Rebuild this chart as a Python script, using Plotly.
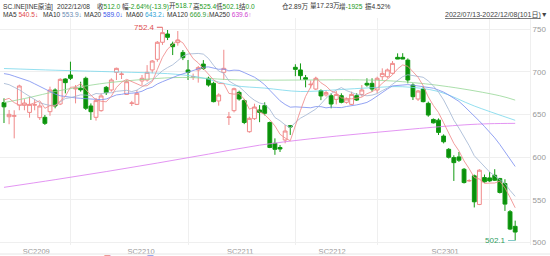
import plotly.graph_objects as go

# ---------------- data ----------------
idx = list(range(101))
opens = [664, 647.4, 648, 661, 661, 652.5, 661, 646.3, 646.7, 653.3,
         678.8, 662.3, 691.7, 696.4, 680, 680.9, 692.5, 660, 646.7, 654.5,
         681.9, 678.8, 699.5, 697, 673.6, 663, 661.9, 689.4, 690.5, 702.3,
         714.8, 734.8, 744.5, 732.8, 734.4, 722.9, 702.3, 694, 702.3, 709.2,
         692.5, 686.6, 665.9, 699.5, 646.5, 654.5, 676, 666.3, 629.8, 645.1,
         655.3, 660.4, 640.6, 616.2, 611.3, 620.1, 636.9, 705.4, 702.3, 693.2,
         685, 679.9, 678, 673, 672.1, 667.8, 672.1, 664.3, 661.9, 672.1,
         673.6, 686.6, 686.6, 678.8, 694.4, 694.4, 698.4, 717.1, 717.1, 713.9,
         684.6, 668.2, 679.9, 663.1, 644.2, 643.4, 624.7, 609.1, 599.4, 600.2,
         585.7, 572, 578, 544.4, 576, 575.6, 578.7, 574.9, 569, 535.9,
         518.7]
highs = [669, 655.3, 655, 685, 668, 671, 668, 664, 649.4, 682.7,
         680.7, 692.5, 692.5, 712, 684.6, 688.5, 694.4, 663, 669.4, 674.9,
         683.5, 692.5, 705, 700.3, 690.5, 666, 678.8, 696.4, 708, 714,
         736.3, 752.4, 749.2, 735.5, 748, 725.7, 714, 698, 707, 713.9,
         694.4, 688.5, 674.9, 726, 653, 681.5, 678, 668.2, 647.4, 662.7,
         661, 664.3, 641.7, 622, 614.2, 637.7, 637.7, 709, 710, 696.4,
         690, 694.4, 679.5, 678, 674.9, 677.6, 674.9, 670, 676.8, 674.9,
         684.6, 692.5, 692.5, 694.4, 704.2, 704, 712.8, 721.8, 722, 715.9,
         686.6, 678.8, 682.7, 665.1, 645.4, 645.4, 626.7, 610.6, 602.1, 606,
         587.2, 574, 579.5, 585.8, 579.5, 582.3, 585.8, 575.6, 574, 537.9,
         525.4]
lows = [640, 638.6, 622, 655, 655, 646.3, 655, 643.6, 637.7, 648.5,
        657.3, 661.1, 674.8, 690.5, 663.1, 676.8, 655.3, 643.6, 642.8, 653.3,
        672.9, 676.8, 690.5, 691.7, 672.9, 660, 661.1, 684.6, 688.6, 698.4,
        712, 731.7, 737.4, 719.8, 730.8, 713.9, 690.5, 690.5, 687.4, 702.3,
        682.7, 664.3, 660.4, 690.5, 637.7, 652.5, 666.3, 638.7, 628.6, 643.6,
        641, 649, 610.5, 602.7, 606, 616.2, 626, 695, 690.5, 681.9,
        680.7, 678.8, 666.9, 671, 657.3, 661.9, 663.1, 662.7, 661.1, 665.9,
        671, 682.7, 676.8, 674.9, 690.5, 692.5, 697.2, 715, 715, 686.6,
        667, 665.9, 664.3, 647.4, 639.5, 625.9, 616.1, 598.3, 572, 594.3,
        569, 571, 540.9, 543.6, 570.1, 570.9, 572, 557.3, 536.8, 514.3,
        502.1]
closes = [659, 650.2, 648.5, 683.5, 663.5, 661.9, 661.5, 660, 639.6, 678.8,
          660, 691.3, 687.4, 692.5, 681, 679, 657.3, 653.3, 666.3, 671.8,
          675.7, 690.5, 704.2, 697.5, 688.5, 663.5, 674.9, 692.5, 699.5, 712.8,
          734.8, 746.1, 740.6, 729.6, 737.5, 716.7, 699.5, 694.5, 705, 704.2,
          684.6, 665.1, 672.9, 704.2, 647, 680.3, 668.2, 640.6, 645.5, 658.8,
          652.5, 651.4, 611.3, 609.1, 609.5, 630.6, 635.3, 703, 695.6, 691.3,
          685.5, 692.5, 671.8, 675.7, 662.3, 673.6, 664.3, 668.2, 673.6, 667,
          678.8, 684.6, 679.9, 692.5, 698.3, 702.3, 710, 715.1, 715.1, 690.5,
          670.9, 677.6, 665.1, 649.4, 640.2, 629, 618, 599.8, 593.5, 596.3,
          570.1, 572.5, 547.5, 584.6, 571, 572, 572.8, 558.5, 544.8, 515.5,
          512.0]

ma5 = [667, 669, 664, 661, 660.9, 661.5, 663.8, 666.1, 657.3, 660.4,
       660.0, 665.9, 671.4, 682.0, 682.4, 686.2, 679.4, 672.6, 667.4, 665.5,
       664.9, 671.5, 681.7, 687.9, 691.3, 688.8, 685.7, 683.4, 683.8, 688.6,
       702.9, 717.1, 726.8, 732.8, 737.7, 734.1, 724.8, 715.6, 710.6, 704.0,
       697.6, 690.7, 686.4, 686.2, 674.8, 673.9, 674.5, 668.1, 656.3, 658.7,
       653.1, 649.8, 643.9, 636.6, 626.8, 622.4, 619.2, 637.5, 654.8, 671.2,
       682.1, 693.6, 687.3, 683.4, 677.6, 675.2, 669.5, 668.8, 668.4, 669.3,
       670.4, 674.4, 676.8, 680.6, 686.8, 691.5, 696.6, 703.6, 708.2, 706.6,
       700.3, 693.8, 683.8, 670.7, 660.6, 652.3, 640.3, 627.3, 616.1, 607.3,
       595.5, 586.4, 576.0, 574.2, 569.1, 569.5, 569.6, 571.8, 563.8, 552.7,
       540.5]
ma10 = [686.5, 685, 682, 679, 675, 671, 667, 664, 662, 660.7,
        660.8, 664.9, 668.8, 669.7, 671.4, 673.1, 672.7, 672.0, 674.7, 674.0,
        675.6, 675.5, 677.2, 677.7, 678.4, 676.9, 678.6, 682.5, 685.9, 690.0,
        695.9, 701.4, 705.1, 708.3, 713.2, 718.5, 721.0, 721.2, 721.7, 720.9,
        715.8, 707.7, 701.0, 698.4, 689.4, 685.7, 682.6, 677.2, 671.3, 666.7,
        663.5, 662.1, 656.0, 646.5, 642.7, 637.8, 634.5, 640.7, 645.7, 649.0,
        652.3, 656.4, 662.4, 669.1, 674.4, 678.7, 681.6, 678.1, 675.9, 673.5,
        672.8, 672.0, 672.8, 674.5, 678.1, 681.0, 685.5, 690.2, 694.4, 696.7,
        695.9, 695.2, 693.7, 689.4, 683.6, 676.3, 667.1, 655.6, 643.4, 634.0,
        623.9, 613.4, 601.6, 595.2, 588.2, 582.5, 578.0, 573.9, 569.0, 560.9,
        553.9]
ma20 = [698, 697, 695, 693, 691, 689, 686, 683, 680, 677,
        674, 672, 671, 670, 669.5, 669, 668.5, 668, 667.5, 667.4,
        668.2, 670.2, 673.0, 673.7, 674.9, 675.0, 675.7, 677.3, 680.3, 682.0,
        685.8, 688.5, 691.2, 693.0, 695.8, 697.7, 699.8, 701.9, 703.8, 705.5,
        705.9, 704.6, 703.1, 703.4, 701.3, 702.1, 701.8, 699.2, 696.5, 693.8,
        689.7, 684.9, 678.5, 672.5, 666.1, 661.8, 658.6, 659.0, 658.5, 657.9,
        657.9, 659.3, 659.2, 657.8, 658.6, 658.3, 658.1, 659.4, 660.8, 661.3,
        662.6, 664.2, 667.6, 671.8, 676.3, 679.9, 683.6, 684.2, 685.2, 685.1,
        684.4, 683.6, 683.3, 682.0, 680.9, 678.7, 676.3, 672.9, 668.9, 665.4,
        659.9, 654.3, 647.7, 642.3, 635.9, 629.4, 622.6, 614.8, 606.2, 597.5,
        589.0]
ma60_x = [0, 10, 19, 25, 32, 38, 45, 51, 58, 65, 72, 78, 85, 92, 100]
ma60_y = [704, 702, 700.5, 699.5, 698, 694, 684, 681, 677, 679, 681.5, 682.6, 677, 660, 643.2]
ma120_x = [0, 5, 10, 15, 20, 28, 35, 46, 58, 71, 78, 87, 97, 100]
ma120_y = [664, 670, 677, 682.5, 687, 691.5, 693.5, 690.5, 690.5, 690.5, 688.5, 682.6, 672, 666.9]
ma250_x = [0, 10, 20, 30, 40, 50, 60, 70, 80, 90, 95, 100]
ma250_y = [564.5, 573.5, 583, 593, 603.5, 614, 621.5, 627.5, 633, 637.8, 639.2, 639.6]

month_starts = [13, 36, 57, 73, 95]
xtick_pos = [6.3, 26.8, 46.2, 64.2, 86.3]
xtick_text = ["SC2209", "SC2210", "SC2211", "SC2212", "SC2301"]
ytick_vals = [500, 550, 600, 650, 700, 750]

assert all(len(a) == 101 for a in (opens, highs, lows, closes, ma5, ma10, ma20))

# ---------------- figure ----------------
W, H = 550, 256
L, R, T, B = 0, 20, 18, 11
PW, PH = W - L - R, H - T - B
FONT = "Liberation Sans, Noto Sans CJK SC, sans-serif"

fig = go.Figure()
fig.add_trace(go.Candlestick(
    x=idx, open=opens, high=highs, low=lows, close=closes,
    increasing=dict(line=dict(color="#f08a8a", width=1), fillcolor="#ffffff"),
    decreasing=dict(line=dict(color="#119a11", width=1), fillcolor="#0a8f0a"),
    whiskerwidth=0, showlegend=False, hoverinfo="skip"))

def add_line(xs, ys, color, spline=False):
    fig.add_trace(go.Scatter(
        x=xs, y=ys, mode="lines",
        line=dict(color=color, width=1, shape="spline" if spline else "linear",
                  smoothing=1.0),
        showlegend=False, hoverinfo="skip"))

add_line(ma250_x, ma250_y, "rgba(222,130,240,0.85)", True)
add_line(ma120_x, ma120_y, "rgba(150,215,150,0.8)", True)
add_line(ma60_x, ma60_y, "rgba(120,215,235,0.8)", True)
add_line(idx, ma20, "rgba(120,140,240,0.8)")
add_line(idx, ma10, "rgba(160,180,210,0.8)")
add_line(idx, ma5, "rgba(240,140,140,0.85)")

# high / low markers
fig.add_shape(type="line", x0=29.9, x1=31, y0=752.4, y1=752.4,
              line=dict(color="#e06060", width=1))
fig.add_annotation(x=29.9, y=752.4, text="752.4", showarrow=False, xanchor="right",
                   font=dict(family=FONT, size=8, color="#e05050"))
fig.add_shape(type="line", x0=98.6, x1=100, y0=502.1, y1=502.1,
              line=dict(color="#80c8c8", width=1))
fig.add_annotation(x=98.6, y=502.1, text="502.1", showarrow=False, xanchor="right",
                   font=dict(family=FONT, size=8, color="#2e9e5e"))

# header
def px2paper(px, py):
    return (px - L) / PW, (H - B - py) / PH

G = "#1a9a1a"
HS = 6.6
line1 = [
    (2, "SC.INE[INE原油]"),
    (56, "2022/12/08"),
    (96, f"收<span style='color:{G}'>512.0</span>"),
    (121, f"幅<span style='color:{G}'>-2.64%(-13.9)</span>"),
    (168, f"开<span style='color:{G}'>518.7</span>"),
    (192, f"高<span style='color:{G}'>525.4</span>"),
    (215, f"低<span style='color:{G}'>502.1</span>"),
    (238, f"结<span style='color:{G}'>0.0</span>"),
    (281, "仓2.89万"),
    (309, "量17.23万"),
    (338, f"增<span style='color:{G}'>-1925</span>"),
    (364, "振4.52%"),
]
for x, t in line1:
    xp, yp = px2paper(x, 6)
    fig.add_annotation(x=xp, y=yp, xref="paper", yref="paper", text=t, showarrow=False,
                       xanchor="left", yanchor="middle", borderpad=0,
                       font=dict(family=FONT, size=HS, color="#333"))

line2 = [
    (2, "MA5", "540.5↓", "#e04848"),
    (42, "MA10", "553.9↓", "#6b8cb3"),
    (83, "MA20", "589.0↓", "#3a58ea"),
    (125, "MA60", "643.2↓", "#2a9fd6"),
    (166, "MA120", "666.9↓", "#34a034"),
    (208, "MA250", "639.6↑", "#d045d0"),
]
for x, name, val, col in line2:
    xp, yp = px2paper(x, 15)
    fig.add_annotation(x=xp, y=yp, xref="paper", yref="paper",
                       text=f"{name} <span style='color:{col}'>{val}</span>",
                       showarrow=False, xanchor="left", yanchor="middle", borderpad=0,
                       font=dict(family=FONT, size=HS, color="#333"))

xp, yp = px2paper(549, 15)
fig.add_annotation(x=xp, y=yp, xref="paper", yref="paper",
                   text="<u>2022/07/13-2022/12/08(101日)</u>▼", showarrow=False,
                   xanchor="right", yanchor="middle", borderpad=0,
                   font=dict(family=FONT, size=7, color="#444"))

# bottom strip (cut-off indicator header)
xp0, yp0 = px2paper(0, 254)
fig.add_shape(type="line", xref="paper", yref="paper", x0=0, x1=W / PW, y0=yp0, y1=yp0,
              line=dict(color="#e6e6e6", width=1))
for x, t, col in [(2, "VOL(5,10)", "#444"), (36, "172284", "#444"),
                  (73, "MA5:18.2万", "#e04848"), (112, "MA10:16.9万", "#4a6ae0")]:
    xp, yp = px2paper(x, 259)
    fig.add_annotation(x=xp, y=yp, xref="paper", yref="paper", text=t, showarrow=False,
                       xanchor="left", yanchor="middle", borderpad=0,
                       font=dict(family=FONT, size=7, color=col))

fig.update_layout(
    width=W, height=H, margin=dict(l=L, r=R, t=T, b=B, autoexpand=False),
    paper_bgcolor="white", plot_bgcolor="white",
    font=dict(family=FONT, size=8, color="#999"),
    showlegend=False, hovermode=False, boxgap=0.25, boxgroupgap=0,
    xaxis=dict(range=[-0.78, 102.9], rangeslider=dict(visible=False),
               tickmode="array", tickvals=xtick_pos, ticktext=xtick_text,
               showgrid=False, zeroline=False, showline=False, ticks="",
               tickfont=dict(size=7.5, color="#999"), automargin=False,
               minor=dict(tickmode="array", tickvals=month_starts, showgrid=True,
                          gridcolor="#efefef", gridwidth=1, ticks="")),
    yaxis=dict(range=[496.8, 763.3], side="right", tickmode="array", tickvals=ytick_vals,
               showgrid=True, gridcolor="#efefef", gridwidth=1, zeroline=False,
               showline=True, linecolor="#efefef", ticks="", automargin=False,
               tickfont=dict(size=8, color="#999")),
)

fig.write_html("out.html")
